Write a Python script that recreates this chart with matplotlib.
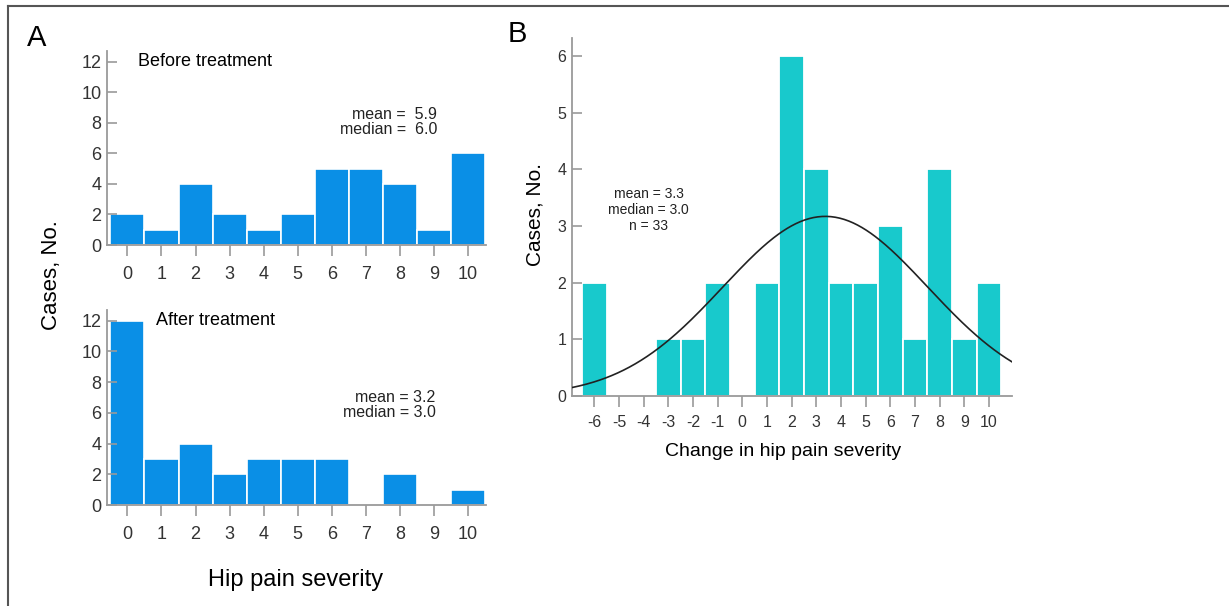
import numpy as np
import matplotlib
matplotlib.use("Agg")
import matplotlib.pyplot as plt
from matplotlib.lines import Line2D

plt.rcParams["font.family"] = ["Liberation Sans", "DejaVu Sans"]
plt.rcParams["axes.unicode_minus"] = False

# ---- data ----
severity = [0, 1, 2, 3, 4, 5, 6, 7, 8, 9, 10]
before_counts = [2, 1, 4, 2, 1, 2, 5, 5, 4, 1, 6]
after_counts = [12, 3, 4, 2, 3, 3, 3, 0, 2, 0, 1]

change = [-6, -5, -4, -3, -2, -1, 0, 1, 2, 3, 4, 5, 6, 7, 8, 9, 10]
change_counts = [2, 0, 0, 1, 1, 2, 0, 2, 6, 4, 2, 2, 3, 1, 4, 1, 2]

before_stats = "mean =  5.9\nmedian =  6.0"
after_stats = "mean = 3.2\nmedian = 3.0"
change_stats = "mean = 3.3\nmedian = 3.0\nn = 33"

BLUE = "#0a8fe6"
CYAN = "#18c9cc"
GREY = "#9a9a9a"

W, H = 1229, 606
fig = plt.figure(figsize=(W / 100, H / 100), dpi=100)


def frac(x0, y0, x1, y1):
    """pixel box -> figure fraction [left, bottom, width, height]"""
    return [x0 / W, 1 - y1 / H, (x1 - x0) / W, (y1 - y0) / H]


def style_axes(ax, size):
    for s in ["top", "right"]:
        ax.spines[s].set_visible(False)
    for s in ["left", "bottom"]:
        ax.spines[s].set_color(GREY)
        ax.spines[s].set_linewidth(1.3)
    ax.tick_params(axis="y", direction="in", length=7, width=1.2, color=GREY,
                   labelsize=size, labelcolor="#333333", pad=4)
    ax.tick_params(axis="x", direction="out", length=8, width=1.2, color=GREY,
                   labelsize=size, labelcolor="#333333", pad=7)


# ---- panel A, before ----
ax1 = fig.add_axes(frac(107, 51, 486, 245))
ax1.bar(severity, before_counts, width=1, color=BLUE, edgecolor="white", linewidth=1.2)
ax1.set_xlim(-0.6, 10.53)
ax1.set_ylim(0, 12.7)
ax1.set_yticks(range(0, 13, 2))
ax1.set_xticks(severity)
style_axes(ax1, 13)
ax1.text(0.32, 12, "Before treatment", fontsize=13, va="center", ha="left")
ax1.text(9.1, 8.05, before_stats, fontsize=11.5, ha="right", va="center",
         multialignment="right", linespacing=1.0, color="#222222")

# ---- panel A, after ----
ax2 = fig.add_axes(frac(107, 310, 486, 505))
ax2.bar(severity, after_counts, width=1, color=BLUE, edgecolor="white", linewidth=1.2)
ax2.set_xlim(-0.6, 10.53)
ax2.set_ylim(0, 12.7)
ax2.set_yticks(range(0, 13, 2))
ax2.set_xticks(severity)
style_axes(ax2, 13)
ax2.text(0.85, 12, "After treatment", fontsize=13, va="center", ha="left")
ax2.text(9.05, 6.5, after_stats, fontsize=11.5, ha="right", va="center",
         multialignment="right", linespacing=1.0, color="#222222")

fig.text(51 / W, 1 - 275 / H, "Cases, No.", rotation=90, fontsize=16,
         ha="center", va="center")
fig.text(296 / W, 1 - 580 / H, "Hip pain severity", fontsize=17,
         ha="center", va="center")

# ---- panel B ----
ax3 = fig.add_axes(frac(572, 38, 1012, 396))
ax3.bar(change, change_counts, width=1, color=CYAN, edgecolor="white", linewidth=1.3)
ax3.set_xlim(-6.9, 10.93)
ax3.set_ylim(0, 6.32)
ax3.set_yticks(range(0, 7))
ax3.set_xticks(change)
style_axes(ax3, 11.5)
ax3.tick_params(axis="x", pad=6)

# normal curve fitted to the histogram counts
vals = np.repeat(change, change_counts)
mu, sd, n = vals.mean(), vals.std(ddof=1), len(vals)
xs = np.linspace(-6.9, 10.93, 300)
ax3.plot(xs, n / (sd * np.sqrt(2 * np.pi)) * np.exp(-0.5 * ((xs - mu) / sd) ** 2),
         color="#222222", linewidth=1.2, zorder=4)

ax3.text(-3.8, 3.28, change_stats, fontsize=10, ha="center", va="center",
         linespacing=1.2, color="#222222")

fig.text(535 / W, 1 - 215 / H, "Cases, No.", rotation=90, fontsize=15,
         ha="center", va="center")
fig.text(783 / W, 1 - 452 / H, "Change in hip pain severity", fontsize=14,
         ha="center", va="center")

# panel letters
fig.text(37 / W, 1 - 38 / H, "A", fontsize=21, ha="center", va="center")
fig.text(517 / W, 1 - 34 / H, "B", fontsize=21, ha="center", va="center")

# frame lines (top and left edges of the figure box)
fig.add_artist(Line2D([8 / W, 1], [1 - 6 / H, 1 - 6 / H], transform=fig.transFigure,
                      color="#555555", linewidth=1.5))
fig.add_artist(Line2D([8 / W, 8 / W], [0, 1 - 6 / H], transform=fig.transFigure,
                      color="#555555", linewidth=1.5))

fig.savefig("out.png", dpi=100)
